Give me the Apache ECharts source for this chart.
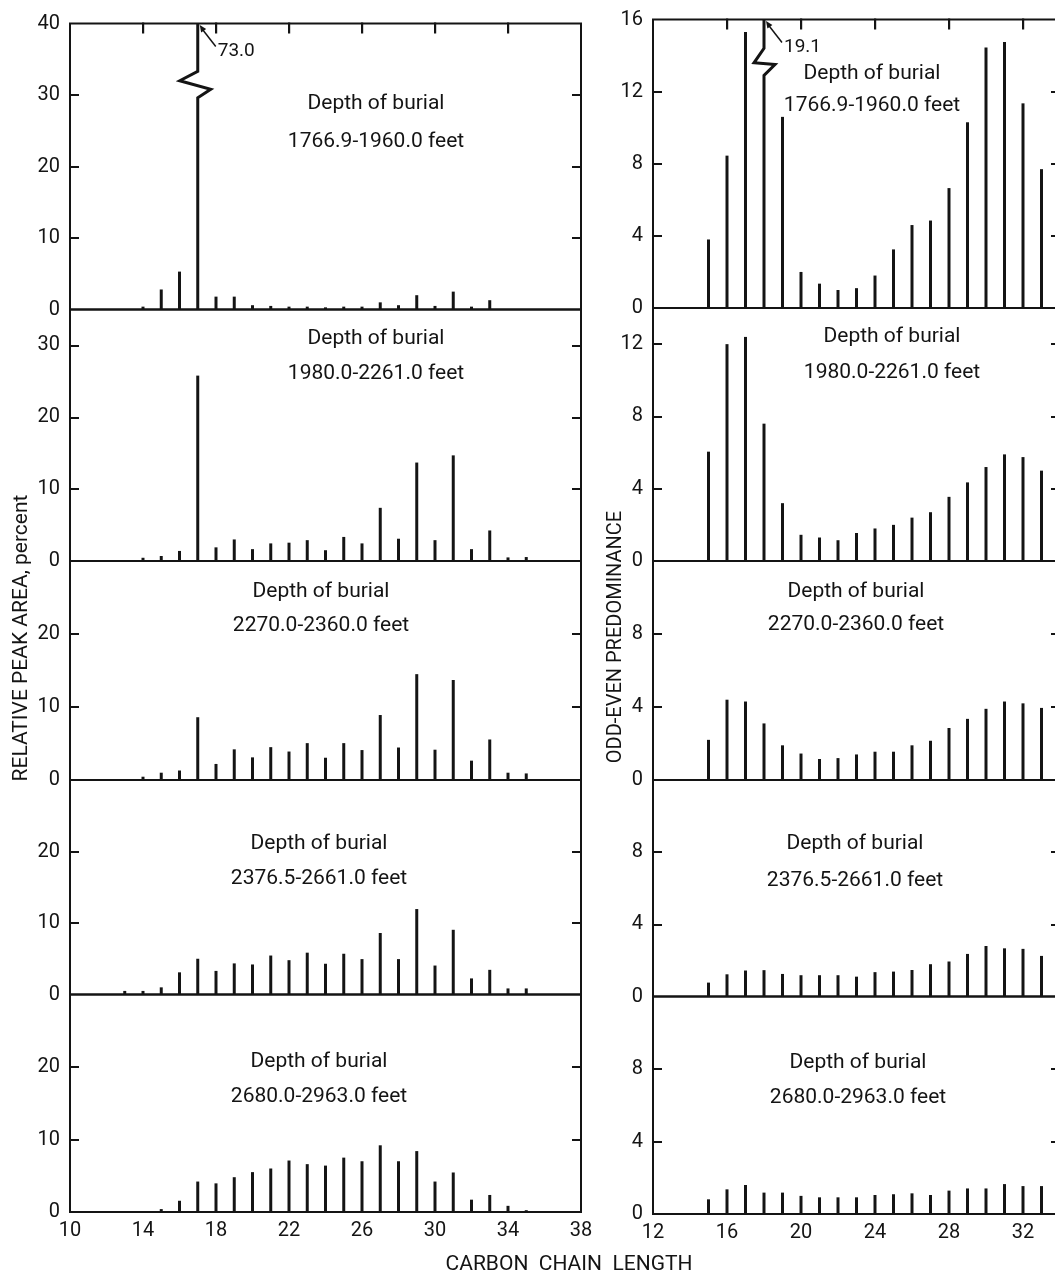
<!DOCTYPE html>
<html>
<head>
<meta charset="utf-8">
<title>Carbon chain length distributions</title>
<script src="https://cdn.jsdelivr.net/npm/echarts@6.0.0/dist/echarts.min.js"></script>
<style>
html,body{margin:0;padding:0;background:#ffffff;}
#chart{width:1055px;height:1275px;}
</style>
</head>
<body>
<div id="chart"></div>
<script>
// ------------------------- DATA -------------------------
// Relative peak area, percent (left column)
const carbonArea1 = [14,15,16,17,18,19,20,21,22,23,24,25,26,27,28,29,30,31,32,33];
const area1 = [0.4,2.8,5.3,73.0,1.8,1.8,0.6,0.5,0.4,0.4,0.3,0.4,0.4,1.0,0.6,2.0,0.5,2.5,0.4,1.3];

const carbonArea2 = [14,15,16,17,18,19,20,21,22,23,24,25,26,27,28,29,30,31,32,33,34,35];
const area2 = [0.45,0.7,1.4,25.8,1.9,3.0,1.65,2.45,2.55,2.9,1.5,3.35,2.45,7.4,3.1,13.7,2.9,14.7,1.65,4.25,0.5,0.55];

const carbonArea3 = [14,15,16,17,18,19,20,21,22,23,24,25,26,27,28,29,30,31,32,33,34,35];
const area3 = [0.45,1.0,1.3,8.6,2.2,4.2,3.1,4.5,3.9,5.05,3.05,5.05,4.1,8.9,4.45,14.5,4.15,13.7,2.65,5.55,1.0,0.9];

const carbonArea4 = [13,14,15,16,17,18,19,20,21,22,23,24,25,26,27,28,29,30,31,32,33,34,35];
const area4 = [0.5,0.5,1.0,3.1,5.0,3.3,4.35,4.2,5.45,4.8,5.85,4.3,5.7,4.95,8.6,4.95,11.95,4.05,9.05,2.25,3.45,0.85,0.85];

const carbonArea5 = [15,16,17,18,19,20,21,22,23,24,25,26,27,28,29,30,31,32,33,34,35];
const area5 = [0.4,1.55,4.2,3.95,4.8,5.5,6.0,7.1,6.6,6.4,7.5,7.0,9.2,7.0,8.4,4.2,5.45,1.7,2.35,0.85,0.25];

// Odd-even predominance (right column)
const carbonOep = [15,16,17,18,19,20,21,22,23,24,25,26,27,28,29,30,31,32,33];
const oep1 = [3.8,8.45,15.3,19.1,10.6,2.0,1.35,1.0,1.1,1.8,3.25,4.6,4.85,6.65,10.3,14.45,14.75,11.35,7.7];
const oep2 = [6.05,12.0,12.4,7.6,3.2,1.45,1.3,1.15,1.55,1.8,2.0,2.4,2.7,3.55,4.35,5.2,5.9,5.75,5.0];
const oep3 = [2.2,4.4,4.3,3.1,1.9,1.45,1.15,1.2,1.4,1.55,1.55,1.9,2.15,2.85,3.35,3.9,4.3,4.2,3.95];
const oep4 = [0.77,1.23,1.44,1.46,1.25,1.18,1.18,1.18,1.1,1.35,1.38,1.47,1.79,1.94,2.36,2.8,2.67,2.64,2.25];
const oep5 = [0.81,1.36,1.6,1.18,1.18,1.0,0.92,0.92,0.92,1.05,1.09,1.14,1.05,1.29,1.41,1.41,1.65,1.54,1.54];

// Panel captions
const depthRanges = ['1766.9-1960.0 feet','1980.0-2261.0 feet','2270.0-2360.0 feet','2376.5-2661.0 feet','2680.0-2963.0 feet'];
const depthCaption = 'Depth of burial';

// Axis ranges and tick labels
const areaMax = [40,35,30,30,30];
const oepMax = [16,14,12,12,12];
const areaYTicks = [[0,10,20,30,40],[0,10,20,30],[0,10,20],[0,10,20],[0,10,20]];
const oepYTicks = [[0,4,8,12,16],[0,4,8,12],[0,4,8],[0,4,8],[0,4,8]];
const areaXLabels = [10,14,18,22,26,30,34,38];
const oepXLabels = [12,16,20,24,28,32];
const areaTopTicks = [14,18,22,26,30,34];
const oepTopTicks = [16,20,24,28,32];

const xTitle = 'CARBON  CHAIN  LENGTH';
const yTitleLeft = 'RELATIVE PEAK AREA, percent';
const yTitleRight = 'ODD-EVEN PREDOMINANCE';

// ------------------------- LAYOUT / STYLE -------------------------
const INK = '#141414';
const FONT = 'Roboto';

const columns = [
  {
    carbon: [carbonArea1, carbonArea2, carbonArea3, carbonArea4, carbonArea5],
    vals: [area1, area2, area3, area4, area5],
    max: areaMax, yTicks: areaYTicks,
    xMin: 10, xMax: 38, xLabels: areaXLabels, topTicks: areaTopTicks,
    left: 70, width: 511,
    bounds: [23.5, 309.5, 561, 780, 994.5, 1212],
    textX: [376, 376, 321, 319, 319],
    textY: [[104, 142], [339, 374], [592, 626], [844, 879], [1062, 1097]],
    brk: [0.74, 0.77, 0.80, 0.833, 13, -18]
  },
  {
    carbon: [carbonOep, carbonOep, carbonOep, carbonOep, carbonOep],
    vals: [oep1, oep2, oep3, oep4, oep5],
    max: oepMax, yTicks: oepYTicks,
    xMin: 12, xMax: 34, xLabels: oepXLabels, topTicks: oepTopTicks,
    left: 653, width: 407,
    bounds: [19.5, 308, 561, 780, 996.5, 1214],
    textX: [872, 892, 856, 855, 858],
    textY: [[74, 106], [337, 373], [592, 625], [844, 881], [1063, 1098]],
    brk: [0.806, 0.844, 0.85, 0.9, 11, -10]
  }
];

function brokenRender(brk) {
  return function (params, api) {
    const x = api.value(0), v = api.value(1), top = api.value(2);
    const b = api.coord([x, 0]);
    const t = api.coord([x, top]);
    const H = b[1] - t[1];
    const px = b[0];
    const y = f => b[1] - H * f;
    const pts = [[px, b[1]], [px, y(brk[0])], [px + brk[4], y(brk[1])],
                 [px + brk[5], y(brk[2])], [px, y(brk[3])], [px, t[1]]];
    return {
      type: 'group',
      children: [
        { type: 'polyline', shape: { points: pts }, style: { stroke: INK, lineWidth: 3, fill: null } },
        { type: 'line', shape: { x1: px + 4, y1: t[1] + 5, x2: px + 18, y2: t[1] + 23 }, style: { stroke: INK, lineWidth: 1.5 } },
        { type: 'polygon', shape: { points: [[px + 2, t[1] + 1.5], [px + 8.4, t[1] + 5.6], [px + 3.4, t[1] + 9]] }, style: { fill: INK } },
        { type: 'text', x: px + 20, y: t[1] + 28,
          style: { text: v.toFixed(1), font: '19px ' + FONT, fill: INK, align: 'left', verticalAlign: 'middle', textAlign: 'left', textVerticalAlign: 'middle' } }
      ]
    };
  };
}

// tick marks hanging from the top edge: drawn by a custom series through the panel's scales
function topTickRender(params, api) {
  const x = api.value(0), top = api.value(1);
  const p = api.coord([x, top]);
  return {
    type: 'rect',
    shape: { x: p[0] - 1, y: p[1] - 1, width: 2.2, height: 11 },
    style: { fill: INK }
  };
}

const grids = [], xAxes = [], yAxes = [], series = [], graphics = [];

columns.forEach(col => {
  for (let p = 0; p < 5; p++) {
    const gi = grids.length;
    const top = col.bounds[p], bottom = col.bounds[p + 1];
    const M = col.max[p];
    grids.push({
      left: col.left, width: col.width, top: top, height: bottom - top,
      show: true, borderColor: INK, borderWidth: 2, backgroundColor: 'transparent',
      containLabel: false, outerBoundsMode: 'none'
    });
    const isBottom = (p === 4);
    xAxes.push({
      type: 'value', gridIndex: gi, min: col.xMin, max: col.xMax, position: 'bottom',
      axisLine: { show: false, onZero: false }, axisTick: { show: false }, splitLine: { show: false },
      axisLabel: { show: isBottom, customValues: col.xLabels, margin: 9, fontFamily: FONT, fontSize: 20, color: INK }
    });
    const xi = xAxes.length - 1;
    const inner = col.yTicks[p].filter(v => v > 0 && v < M);
    yAxes.push({
      type: 'value', gridIndex: gi, min: 0, max: M, position: 'left',
      axisLine: { show: false, onZero: false }, splitLine: { show: false },
      axisTick: { show: true, inside: true, length: 9, customValues: inner, lineStyle: { color: INK, width: 2 } },
      axisLabel: { customValues: col.yTicks[p], margin: 10, fontFamily: FONT, fontSize: 20, color: INK }
    });
    const yi = yAxes.length - 1;
    yAxes.push({
      type: 'value', gridIndex: gi, min: 0, max: M, position: 'right',
      axisLine: { show: false, onZero: false }, splitLine: { show: false }, axisLabel: { show: false },
      axisTick: { show: true, inside: true, length: 9, customValues: inner, lineStyle: { color: INK, width: 2 } }
    });

    const carbon = col.carbon[p], vals = col.vals[p];
    const normal = [], broken = [];
    carbon.forEach((c, j) => {
      if (vals[j] > M) broken.push([c, vals[j], M]);
      else normal.push([c, vals[j]]);
    });
    series.push({
      type: 'bar', xAxisIndex: xi, yAxisIndex: yi, data: normal,
      barWidth: 3, itemStyle: { color: INK }, silent: true, animation: false
    });
    if (broken.length) {
      series.push({
        type: 'custom', xAxisIndex: xi, yAxisIndex: yi, data: broken,
        encode: { x: 0, y: 1 }, clip: false, silent: true, animation: false,
        renderItem: brokenRender(col.brk)
      });
    }
    if (p === 0) {
      series.push({
        type: 'custom', xAxisIndex: xi, yAxisIndex: yi,
        data: col.topTicks.map(v => [v, M, 0]),
        encode: { x: 0, y: 1 }, clip: false, silent: true, animation: false, z: 20,
        renderItem: topTickRender
      });
    }

    graphics.push({
      type: 'text', x: col.textX[p], y: col.textY[p][0], silent: true,
      style: { text: depthCaption, font: '21px ' + FONT, fill: INK, align: 'center', verticalAlign: 'middle', textAlign: 'center', textVerticalAlign: 'middle' }
    });
    graphics.push({
      type: 'text', x: col.textX[p], y: col.textY[p][1], silent: true,
      style: { text: depthRanges[p], font: '21px ' + FONT, fill: INK, align: 'center', verticalAlign: 'middle', textAlign: 'center', textVerticalAlign: 'middle' }
    });
  }
});

graphics.push({
  type: 'text', x: 569, y: 1265, silent: true,
  style: { text: xTitle, font: '21px ' + FONT, fill: INK, align: 'center', verticalAlign: 'middle', textAlign: 'center', textVerticalAlign: 'middle' }
});
graphics.push({
  type: 'text', x: 22, y: 638, rotation: Math.PI / 2, silent: true,
  style: { text: yTitleLeft, font: '21px ' + FONT, fill: INK, align: 'center', verticalAlign: 'middle', textAlign: 'center', textVerticalAlign: 'middle' }
});
graphics.push({
  type: 'text', x: 616, y: 637, rotation: Math.PI / 2, silent: true,
  style: { text: yTitleRight, font: '20px ' + FONT, fill: INK, align: 'center', verticalAlign: 'middle', textAlign: 'center', textVerticalAlign: 'middle' }
});

const chart = echarts.init(document.getElementById('chart'), null, { renderer: 'canvas' });
chart.setOption({
  backgroundColor: '#ffffff',
  animation: false,
  grid: grids,
  xAxis: xAxes,
  yAxis: yAxes,
  series: series,
  graphic: graphics
});
</script>
</body>
</html>
